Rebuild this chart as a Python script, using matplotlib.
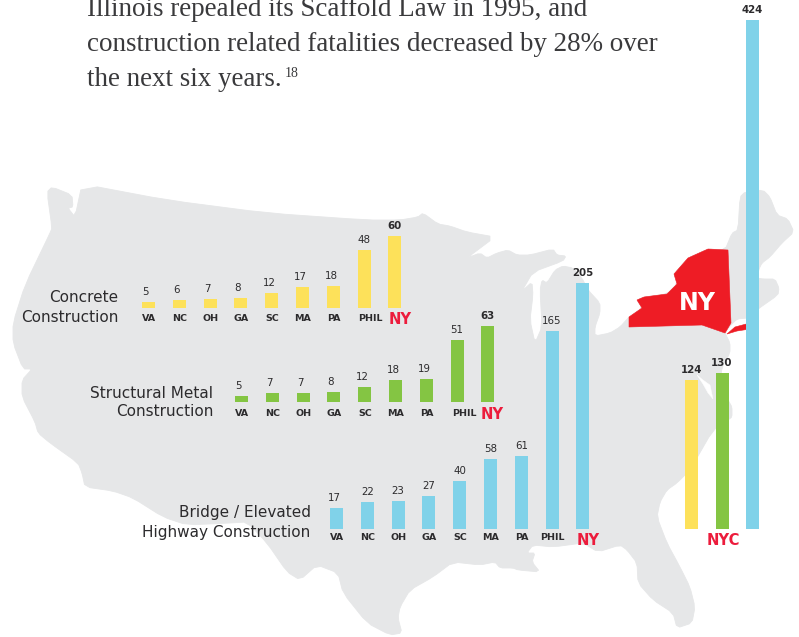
import matplotlib
matplotlib.use("Agg")
import matplotlib.pyplot as plt
from matplotlib.patches import Polygon

W, H = 799, 637
DPI = 100
PX_PER_UNIT = 1.2

states = ["VA", "NC", "OH", "GA", "SC", "MA", "PA", "PHIL", "NY"]
concrete = [5, 6, 7, 8, 12, 17, 18, 48, 60]
structural = [5, 7, 7, 8, 12, 18, 19, 51, 63]
bridge = [17, 22, 23, 27, 40, 58, 61, 165, 205]
nyc_labels = ["NYC"]
nyc_values = [124, 130, 424]

YELLOW = "#FDE15A"
GREEN = "#84C543"
BLUE = "#80D2E9"
RED = "#EE1C25"
LABEL_RED = "#EC1C3C"
GRAY = "#E6E7E8"
INK = "#2C2B2D"
BODY = "#3A3A3C"

us_outline = [
    (82, 184), (167, 200), (267, 213), (367, 220), (400, 220), (418, 217), (423, 213),
    (438, 224), (450, 226), (467, 232), (495, 237), (467, 258), (480, 253), (487, 258),
    (497, 253), (508, 250), (517, 255), (530, 255), (553, 249), (557, 255), (566, 256),
    (563, 261), (533, 272), (522, 291), (532, 282), (533, 295), (530, 320), (535, 343),
    (542, 327), (540, 290), (542, 280), (547, 283), (555, 270), (563, 266), (573, 268),
    (582, 278), (588, 290), (600, 303), (600, 313), (595, 327), (595, 336), (610, 333),
    (620, 327), (629, 317), (642, 308), (637, 300), (644, 297), (667, 294), (677, 284),
    (674, 274), (688, 258), (708, 249), (725, 250), (732, 233), (738, 230), (740, 197),
    (745, 192), (763, 190), (770, 197), (777, 215), (788, 219), (794, 232), (782, 243),
    (770, 257), (762, 263), (759, 269), (757, 278), (763, 279), (775, 279), (779, 288),
    (778, 295), (758, 309), (748, 318), (737, 319), (730, 326), (725, 333), (730, 343),
    (730, 353), (722, 367), (720, 385), (728, 400), (732, 407), (732, 417), (728, 420),
    (713, 430), (690, 470), (677, 483), (667, 490), (660, 502), (657, 517), (667, 543),
    (680, 567), (690, 587), (695, 607), (692, 623), (677, 628), (673, 613), (653, 600),
    (638, 583), (637, 563), (627, 550), (620, 545), (598, 552), (583, 543), (553, 547),
    (533, 545), (527, 553), (535, 553), (532, 562), (540, 572), (518, 570), (513, 568),
    (500, 568), (495, 562), (480, 565), (453, 562), (433, 577), (410, 590), (400, 607),
    (398, 618), (402, 633), (390, 635), (367, 623), (343, 593), (338, 573), (317, 565),
    (300, 580), (287, 572), (267, 543), (247, 522), (230, 523), (187, 525), (163, 517),
    (133, 498), (113, 491), (85, 487), (82, 473), (78, 463), (50, 443), (38, 433),
    (35, 422), (22, 397), (22, 380), (32, 369), (23, 369), (13, 343), (13, 323),
    (25, 285), (50, 233), (52, 228), (47, 192), (52, 187), (72, 195), (73, 207),
    (68, 208), (75, 217),
]
bay = [(697, 375), (703, 380), (710, 385), (713, 399), (708, 393), (703, 384)]
ny_state = [
    (629, 317), (642, 308), (637, 300), (644, 297), (667, 294), (677, 284), (674, 274),
    (688, 258), (708, 249), (728, 250), (731, 323), (725, 333), (702, 325), (629, 327),
]
long_island = [(727, 334), (735, 327), (750, 323), (750, 329), (737, 331)]


def soften(points, cut=0.18):
    """One corner-cutting pass so the traced outline reads as a smooth coast."""
    out = []
    n = len(points)
    for i in range(n):
        (x0, y0), (x1, y1) = points[i], points[(i + 1) % n]
        out.append((x0 + (x1 - x0) * cut, y0 + (y1 - y0) * cut))
        out.append((x1 - (x1 - x0) * cut, y1 - (y1 - y0) * cut))
    return out


fig = plt.figure(figsize=(W / DPI, H / DPI), dpi=DPI, facecolor="white")

base = fig.add_axes([0, 0, 1, 1])
base.set_xlim(0, W)
base.set_ylim(H, 0)
base.axis("off")
base.add_patch(Polygon(soften(us_outline), closed=True, fc=GRAY, ec=GRAY, lw=0.6, joinstyle="round"))
base.add_patch(Polygon(bay, closed=True, fc="white", ec="white", lw=0.3))
base.add_patch(Polygon(ny_state, closed=True, fc=RED, ec=RED, lw=0.4))
base.add_patch(Polygon(long_island, closed=True, fc=RED, ec=RED, lw=0.4))
base.text(697, 303, "NY", color="white", fontsize=17, fontweight="bold",
          ha="center", va="center")

serif = "Liberation Serif"
body_lines = [
    ("Illinois repealed its Scaffold Law in 1995, and", 16),
    ("construction related fatalities decreased by 28% over", 51),
    ("the next six years.", 86),
]
last = None
for line, y in body_lines:
    last = base.text(87, y, line, family=serif, fontsize=19.45, color=BODY,
                     ha="left", va="baseline")
fig.canvas.draw()
ext = last.get_window_extent()
base.text(ext.x1 + 3, 77, "18", family=serif, fontsize=10, color=BODY,
          ha="left", va="baseline")

group_titles = [
    (118.5, 298, "Concrete"), (118.5, 317, "Construction"),
    (213.5, 393, "Structural Metal"), (213.5, 412, "Construction"),
    (310.7, 513, "Bridge / Elevated"), (310.7, 533, "Highway Construction"),
]
for x, y, t in group_titles:
    base.text(x, y, t, fontsize=10.95, color=INK, ha="right", va="center")


def group_axes(baseline):
    ax = fig.add_axes([0, (H - baseline) / H, 1, baseline / H])
    ax.set_xlim(0, W)
    ax.set_ylim(0, baseline / PX_PER_UNIT)
    ax.axis("off")
    return ax


def value_label(ax, x, v, bold, pad=5):
    if v < 10:
        dx = -3
    elif v < 20:
        dx = -2
    else:
        dx = 0
    ax.annotate(str(v), xy=(x, v), xytext=(dx, pad), textcoords="offset pixels",
                ha="center", va="bottom", fontsize=7.4, color=INK,
                fontweight="bold" if bold else "normal", annotation_clip=False)


def draw_group(values, color, baseline, start, label_dy, phil_dx, ny_dx, ny_dy):
    ax = group_axes(baseline)
    xs = [start + 30.8 * i for i in range(len(values))]
    ax.bar(xs, values, width=13, color=color, linewidth=0)
    for x, v, s in zip(xs, values, states):
        is_ny = s == "NY"
        value_label(ax, x, v, is_ny)
        if is_ny:
            ax.annotate(s, xy=(x, 0), xytext=(ny_dx, -label_dy - ny_dy), textcoords="offset pixels",
                        ha="center", va="center", fontsize=10.6, fontweight="bold",
                        color=LABEL_RED, annotation_clip=False)
        else:
            dx = phil_dx if s == "PHIL" else 0.5
            ax.annotate(s, xy=(x, 0), xytext=(dx, -label_dy), textcoords="offset pixels",
                        ha="center", va="center", fontsize=6.8, fontweight="bold",
                        color=INK, annotation_clip=False)


draw_group(concrete, YELLOW, 307.7, 148.5, 10.5, 6.5, 5, 1)
draw_group(structural, GREEN, 401.7, 241.5, 11.5, 7, 4, 1)
draw_group(bridge, BLUE, 528.7, 336.5, 8.5, 0, 5, 3)

ax_nyc = group_axes(528.7)
nyc_x = [691.5, 722, 752.5]
nyc_colors = [YELLOW, GREEN, BLUE]
ax_nyc.bar(nyc_x, nyc_values, width=13, color=nyc_colors, linewidth=0)
for x, v in zip(nyc_x, nyc_values):
    value_label(ax_nyc, x, v, True)
ax_nyc.annotate(nyc_labels[0], xy=(nyc_x[1], 0), xytext=(1, -11.5), textcoords="offset pixels",
                ha="center", va="center", fontsize=10.6, fontweight="bold",
                color=LABEL_RED, annotation_clip=False)

fig.savefig("out.png", dpi=DPI, facecolor="white")
